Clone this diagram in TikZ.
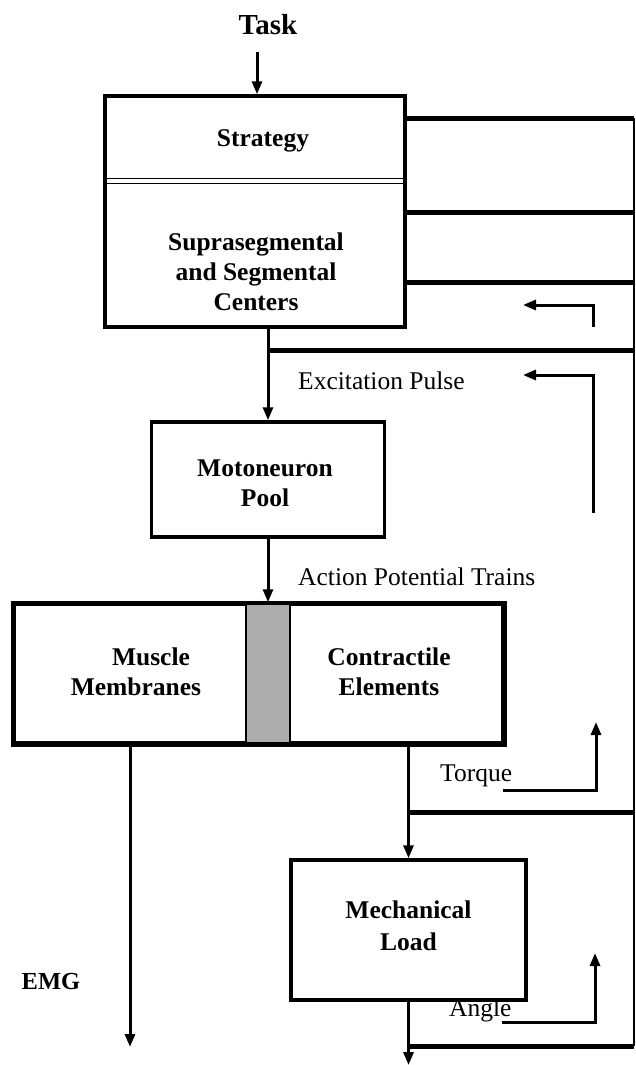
\documentclass[tikz,border=0pt]{standalone}
\usepackage{fontspec}
\setmainfont{Liberation Serif}
\usetikzlibrary{arrows.meta,calc}
\tikzset{
  box/.style={draw, line width=3.5pt, inner sep=0pt, fill=white},
  btxt/.style={font=\fontsize{25.5}{30}\selectfont\bfseries, align=center, inner sep=0pt},
  lbl/.style={font=\fontsize{25.5}{30}\selectfont, inner sep=0pt, anchor=west},
  arr/.style={line width=3pt, -{Triangle[length=13pt,width=10pt]}},
  fb/.style={line width=5pt},
  rail/.style={line width=2.5pt},
}
\begin{document}
\begin{tikzpicture}[x=1pt,y=-1pt]
\useasboundingbox (0,0) rectangle (636,1065);

% Task and top box
\node[btxt, font=\fontsize{29}{34}\selectfont\bfseries] (task) at (268,25) {Task};
\node[box, minimum width=300pt, minimum height=231pt] (top) at (255,211.5) {};
\node[btxt] (strat) at (263,141) {Strategy};
\node[btxt] (supra) at (256,272) {Suprasegmental\\and Segmental\\Centers};
\draw[line width=1.5pt] ($(top.north west)+(0,84)$) -- ($(top.north east)+(0,84)$);
\draw[line width=1.5pt] ($(top.north west)+(0,89)$) -- ($(top.north east)+(0,89)$);
\coordinate (taskarr) at (257,52);
\draw[arr] (taskarr) -- (taskarr |- top.north);

% Motoneuron pool
\node[box, minimum width=233pt, minimum height=115pt] (mn) at (268,479.5) {};
\node[btxt] (mntxt) at (265,483) {Motoneuron\\Pool};
\draw[arr] (mn.north |- top.south) -- (mn.north);
\node[lbl] (exc) at (298,381) {Excitation Pulse};

% Right rail and feedback lines
\coordinate (R1) at (634,118);
\coordinate (R2) at (634,212);
\coordinate (R3) at (634,282);
\coordinate (R4) at (634,350);
\coordinate (R6) at (634,812);
\coordinate (R8) at (634,1046);
\draw[rail] (R1) -- (R8);
\draw[fb] (top.east |- R1) -- (R1);
\draw[fb] (top.east |- R2) -- (R2);
\draw[fb] (top.east |- R3) -- (R3);
\draw[fb] (mn.north |- R4) -- (R4);

% small feedback arrows
\coordinate (s1a) at (593,327);
\coordinate (s1b) at (593,305);
\coordinate (s1c) at (523,305);
\draw[arr] (s1a) -- (s1b) -- (s1c);
\coordinate (s2a) at (593,513);
\coordinate (s2b) at (593,375);
\coordinate (s2c) at (523,375);
\draw[arr] (s2a) -- (s2b) -- (s2c);

% Muscle box
\node[box, minimum width=489pt, minimum height=139pt] (big) at (258.5,673.5) {};
\node[draw, line width=2pt, fill=black!32, minimum width=44pt, minimum height=139pt, inner sep=0pt] (strip) at (268,673.5) {};
\draw[line width=3.5pt] (big.north west) rectangle (big.south east);
\draw[arr] (mn.south) -- (mn.south |- big.north);
\node[lbl] (apt) at (298,577) {Action Potential Trains};
\node[btxt] (mm) at (136,672) {\hspace*{30pt}Muscle\\Membranes};
\node[btxt] (ce) at (389,672) {Contractile\\Elements};

% EMG
\coordinate (emgend) at (130,1047);
\draw[arr] (big.south -| emgend) -- (emgend);
\node[btxt, font=\fontsize{24.5}{30}\selectfont\bfseries] (emg) at (51,981) {EMG};

% Mechanical load
\node[box, minimum width=235pt, minimum height=140pt] (mech) at (408.5,930) {};
\node[btxt, font=\fontsize{25.5}{32}\selectfont\bfseries] (mechtxt) at (408.5,926) {Mechanical\\Load};
\draw[arr] (big.south -| mech.north) -- (mech.north);
\draw[fb] (mech.north |- R6) -- (R6);
\node[lbl] (torque) at (440,776) {Torque};
\coordinate (t1) at (503,790);
\coordinate (t2) at (596,790);
\coordinate (t3) at (596,722);
\draw[arr] (t1) -- (t2) -- (t3);

\node[lbl] (angle) at (449,1010) {Angle};
\coordinate (a1) at (502,1022);
\coordinate (a2) at (595,1022);
\coordinate (a3) at (595,953);
\draw[arr] (a1) -- (a2) -- (a3);
\draw[fb] (mech.south |- R8) -- (R8);
\coordinate (out) at (408.5,1065);
\draw[arr] (mech.south) -- (out);
\end{tikzpicture}
\end{document}
